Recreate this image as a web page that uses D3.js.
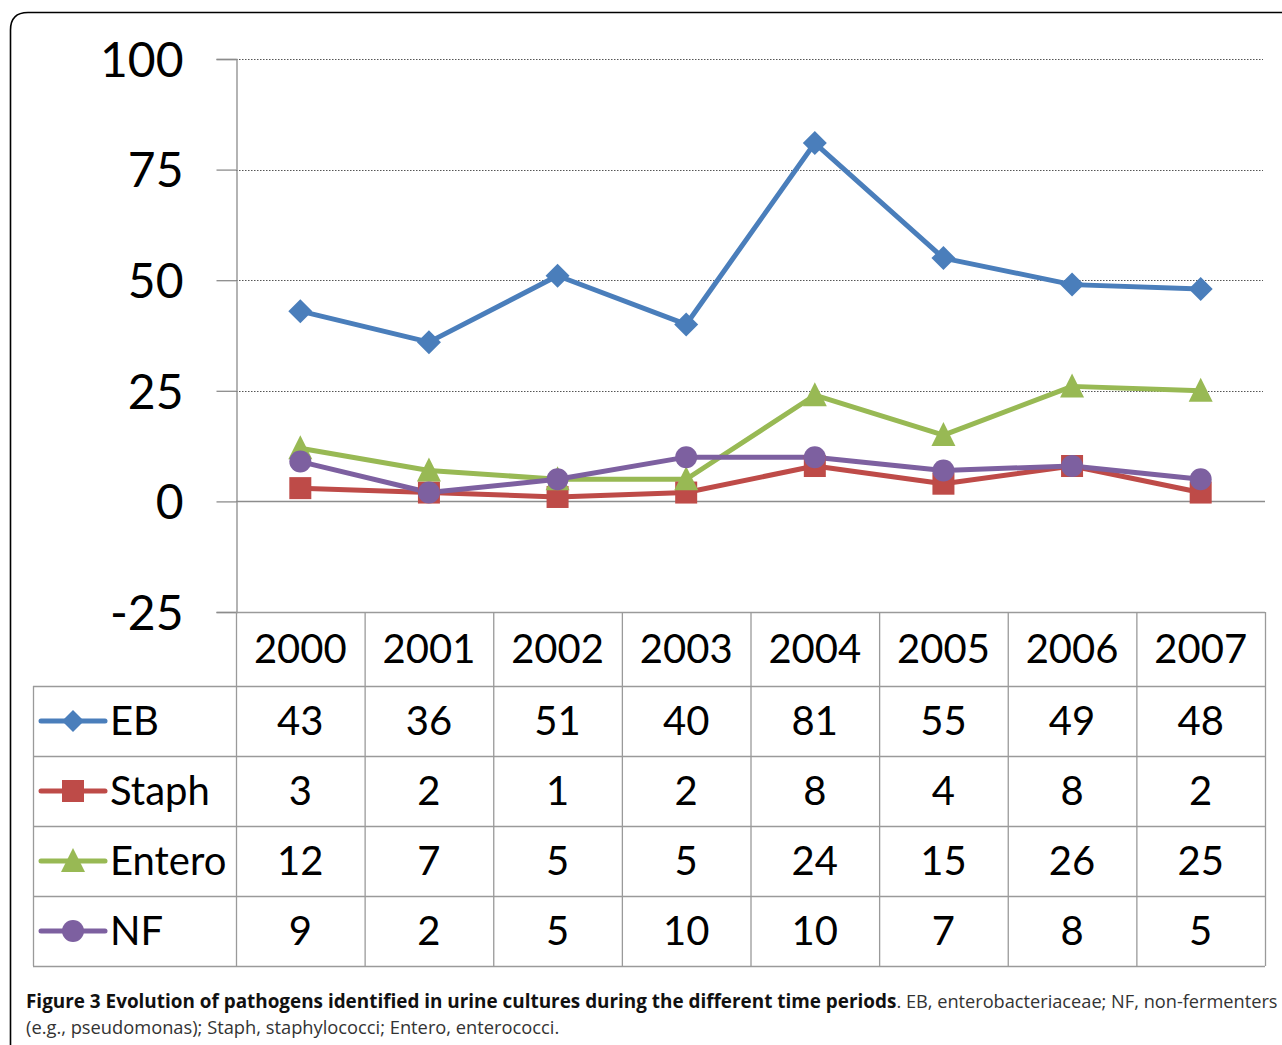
<!DOCTYPE html>
<html>
<head>
<meta charset="utf-8">
<script src="https://cdn.jsdelivr.net/npm/d3@7"></script>
<style>
  body { margin: 0; background: #fff; }
  svg { display: block; }
</style>
</head>
<body>
<div id="chart"></div>
<script>
// ===============================
// DATOS
// ===============================
const years = ['2000', '2001', '2002', '2003', '2004', '2005', '2006', '2007'];
const eb     = [43, 36, 51, 40, 81, 55, 49, 48];
const staph  = [3, 2, 1, 2, 8, 4, 8, 2];
const entero = [12, 7, 5, 5, 24, 15, 26, 25];
const nf     = [9, 2, 5, 10, 10, 7, 8, 5];
const yTicks = [100, 75, 50, 25, 0, -25];

const series = [
  { name: 'EB', values: eb, color: '#4a7ebb', shape: 'diamond' },
  { name: 'Staph', values: staph, color: '#be4b48', shape: 'square' },
  { name: 'Entero', values: entero, color: '#98b954', shape: 'triangle' },
  { name: 'NF', values: nf, color: '#7d60a0', shape: 'circle' }
];

const width = 1282;
const height = 1045;
const font = 'Lato, "Open Sans", sans-serif';

const svg = d3.select('#chart')
  .append('svg')
  .attr('width', width)
  .attr('height', height);

// marco redondeado (se sale por la derecha)
svg.append('path')
  .attr('d', 'M10.5,1045 L10.5,30 Q10.5,12.5 28,12.5 L1282,12.5')
  .attr('fill', 'none')
  .attr('stroke', '#000')
  .attr('stroke-width', 1.6);

// ===============================
// ESCALAS
// ===============================
const x = d3.scaleBand().domain(years).range([236, 1265]);
const y = d3.scaleLinear().domain([-25, 100]).range([612, 59]);
const cx = d => x(d) + x.bandwidth() / 2;

// rejilla punteada
svg.append('g')
  .selectAll('line')
  .data(yTicks.filter(t => t > 0))
  .enter()
  .append('line')
  .attr('x1', 236).attr('x2', 1263)
  .attr('y1', d => Math.round(y(d)) + 0.5)
  .attr('y2', d => Math.round(y(d)) + 0.5)
  .attr('stroke', '#555')
  .attr('stroke-width', 1)
  .attr('stroke-dasharray', '1.5,1.5');

// eje Y
const yAxis = d3.axisLeft(y)
  .tickValues(yTicks)
  .tickFormat(d => String(d))
  .tickSize(20)
  .tickPadding(33);

const gy = svg.append('g')
  .attr('transform', 'translate(236.5,0)')
  .call(yAxis);
gy.select('.domain').attr('stroke', '#8c8c8c').attr('stroke-width', 1.3);
gy.selectAll('.tick line').attr('stroke', '#8c8c8c').attr('stroke-width', 1.3);
gy.selectAll('.tick text')
  .attr('font-family', font)
  .attr('font-size', 48)
  .attr('fill', '#000')
  .attr('dy', '0.36em');

// línea cero
svg.append('line')
  .attr('x1', 236).attr('x2', 1265)
  .attr('y1', Math.round(y(0)) + 0.5).attr('y2', Math.round(y(0)) + 0.5)
  .attr('stroke', '#8c8c8c').attr('stroke-width', 1.3);

// ===============================
// TABLA DE DATOS
// ===============================
const tableTop = y(-25);
const headerH = 74;
const rowH = 70;
const tableLeft = 33;
const tableBottom = tableTop + headerH + rowH * series.length;
const grid = '#9a9a9a';

const table = svg.append('g');

// líneas horizontales
table.append('line')
  .attr('x1', 236).attr('x2', 1265)
  .attr('y1', tableTop + 0.5).attr('y2', tableTop + 0.5)
  .attr('stroke', grid).attr('stroke-width', 1.3);
d3.range(series.length + 1).forEach(i => {
  const yy = tableTop + headerH + rowH * i + 0.5;
  table.append('line')
    .attr('x1', tableLeft).attr('x2', 1265)
    .attr('y1', yy).attr('y2', yy)
    .attr('stroke', grid).attr('stroke-width', 1.3);
});

// líneas verticales
years.forEach(yr => {
  table.append('line')
    .attr('x1', x(yr) + 0.5).attr('x2', x(yr) + 0.5)
    .attr('y1', tableTop).attr('y2', tableBottom)
    .attr('stroke', grid).attr('stroke-width', 1.3);
});
table.append('line')
  .attr('x1', 1265.5).attr('x2', 1265.5)
  .attr('y1', tableTop).attr('y2', tableBottom)
  .attr('stroke', grid).attr('stroke-width', 1.3);
table.append('line')
  .attr('x1', tableLeft + 0.5).attr('x2', tableLeft + 0.5)
  .attr('y1', tableTop + headerH).attr('y2', tableBottom)
  .attr('stroke', grid).attr('stroke-width', 1.3);

// encabezados (años)
table.selectAll('text.year')
  .data(years)
  .enter()
  .append('text')
  .attr('class', 'year')
  .attr('x', cx)
  .attr('y', tableTop + headerH / 2)
  .attr('dy', '0.36em')
  .attr('text-anchor', 'middle')
  .attr('font-family', font)
  .attr('font-size', 40)
  .text(d => d);

// marcadores
function marker(sel, shape, color, size) {
  const h = size / 2;
  if (shape === 'circle') {
    sel.append('circle').attr('r', h).attr('fill', color);
  } else if (shape === 'square') {
    sel.append('rect')
      .attr('x', -h).attr('y', -h)
      .attr('width', size).attr('height', size)
      .attr('fill', color);
  } else if (shape === 'diamond') {
    sel.append('path')
      .attr('d', `M0,${-h}L${h},0L0,${h}L${-h},0Z`)
      .attr('fill', color);
  } else {
    sel.append('path')
      .attr('d', `M0,${-h - 2}L${h + 1},${h}L${-h - 1},${h}Z`)
      .attr('fill', color);
  }
}

series.forEach((s, i) => {
  const rowMid = tableTop + headerH + rowH * i + rowH / 2;

  // leyenda
  const lg = table.append('g');
  lg.append('line')
    .attr('x1', 41).attr('x2', 105)
    .attr('y1', rowMid).attr('y2', rowMid)
    .attr('stroke', s.color).attr('stroke-width', 5)
    .attr('stroke-linecap', 'round');
  marker(lg.append('g').attr('transform', `translate(73,${rowMid})`), s.shape, s.color, 22);
  lg.append('text')
    .attr('x', 110)
    .attr('y', rowMid)
    .attr('dy', '0.36em')
    .attr('font-family', font)
    .attr('font-size', 40)
    .text(s.name);

  // valores
  table.selectAll(null)
    .data(s.values)
    .enter()
    .append('text')
    .attr('x', (d, j) => cx(years[j]))
    .attr('y', rowMid)
    .attr('dy', '0.36em')
    .attr('text-anchor', 'middle')
    .attr('font-family', font)
    .attr('font-size', 40)
    .text(d => d);
});

// ===============================
// SERIES
// ===============================
const line = d3.line()
  .x((d, j) => cx(years[j]))
  .y(d => y(d));

series.forEach(s => {
  svg.append('path')
    .datum(s.values)
    .attr('d', line)
    .attr('fill', 'none')
    .attr('stroke', s.color)
    .attr('stroke-width', 5)
    .attr('stroke-linejoin', 'round');
});

series.forEach(s => {
  s.values.forEach((v, j) => {
    marker(
      svg.append('g').attr('transform', `translate(${cx(years[j])},${y(v)})`),
      s.shape, s.color, s.shape === 'diamond' ? 24 : 22
    );
  });
});

// ===============================
// PIE DE FIGURA
// ===============================
const cap1 = svg.append('text')
  .attr('x', 26).attr('y', 1008)
  .attr('font-family', '"Open Sans", sans-serif')
  .attr('fill', '#111');
cap1.append('tspan')
  .attr('font-weight', 'bold')
  .attr('font-size', 18.9)
  .text('Figure 3 Evolution of pathogens identified in urine cultures during the different time periods');
cap1.append('tspan')
  .attr('fill', '#333')
  .attr('font-size', 18.2)
  .text('. EB, enterobacteriaceae; NF, non-fermenters');

svg.append('text')
  .attr('x', 26).attr('y', 1034)
  .attr('font-family', '"Open Sans", sans-serif')
  .attr('font-size', 18.3)
  .attr('fill', '#333')
  .text('(e.g., pseudomonas); Staph, staphylococci; Entero, enterococci.');
</script>
</body>
</html>
